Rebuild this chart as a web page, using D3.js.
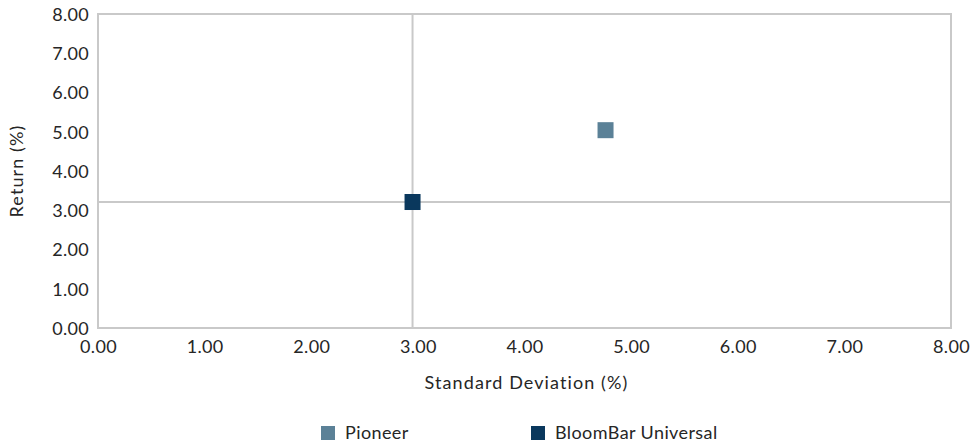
<!DOCTYPE html>
<html><head><meta charset="utf-8">
<script src="https://cdn.jsdelivr.net/npm/d3@7"></script>
<style>
html,body{margin:0;padding:0;background:#fff;}
text{font-family:"Lato","Open Sans",sans-serif;fill:#262626;font-weight:400;}
</style></head>
<body><svg id="c" width="972" height="443"></svg>
<script>
const seriesNames = ["Pioneer", "BloomBar Universal"];
const stdDev = [4.76, 2.95];
const returns = [5.04, 3.21];
const colors = ["#5b8197", "#0a385d"];
const tickValues = [0,1,2,3,4,5,6,7,8];
const benchmarkIndex = 1;

const svg = d3.select("#c");
const L = 98, R = 951, T = 14, B = 328;
const x = d3.scaleLinear().domain([0,8]).range([L,R]);
const y = d3.scaleLinear().domain([0,8]).range([B,T]);
const grid = "#c9c9c9";

svg.append("rect").attr("x",L).attr("y",T).attr("width",R-L).attr("height",B-T)
  .attr("fill","none").attr("stroke",grid).attr("stroke-width",2);

svg.append("line").attr("x1",x(stdDev[benchmarkIndex])).attr("x2",x(stdDev[benchmarkIndex]))
  .attr("y1",T).attr("y2",B).attr("stroke",grid).attr("stroke-width",2);
svg.append("line").attr("x1",L).attr("x2",R)
  .attr("y1",y(returns[benchmarkIndex])).attr("y2",y(returns[benchmarkIndex])).attr("stroke",grid).attr("stroke-width",2);

const fmt = d3.format(".2f");
const xa = svg.append("g").attr("transform",`translate(0,${B})`)
  .call(d3.axisBottom(x).tickValues(tickValues).tickFormat(fmt).tickSize(0).tickPadding(16));
const ya = svg.append("g").attr("transform",`translate(${L},0)`)
  .call(d3.axisLeft(y).tickValues(tickValues).tickFormat(fmt).tickSize(0).tickPadding(9));
[xa,ya].forEach(a=>{a.select(".domain").remove();
  a.selectAll("text").attr("font-family","Lato, sans-serif").attr("font-weight",400)
   .attr("font-size",18).attr("letter-spacing",0.3).attr("fill","#262626");});
ya.selectAll("text").attr("dy","0.35em");
xa.selectAll("text").attr("dy","0.5em");

svg.append("text").attr("x",(L+R)/2+2).attr("y",389).attr("text-anchor","middle")
  .attr("font-size",18).attr("letter-spacing",1.1).text("Standard Deviation (%)");
svg.append("text").attr("transform",`translate(23,${(T+B)/2}) rotate(-90)`).attr("text-anchor","middle")
  .attr("font-size",18).attr("letter-spacing",1.1).text("Return (%)");

const ms = 16;
svg.selectAll("rect.pt").data(seriesNames).enter().append("rect").attr("class","pt")
  .attr("x",(d,i)=>x(stdDev[i])-ms/2).attr("y",(d,i)=>y(returns[i])-ms/2)
  .attr("width",ms).attr("height",ms).attr("fill",(d,i)=>colors[i]);

const legX = [321, 531];
const lg = svg.selectAll("g.leg").data(seriesNames).enter().append("g").attr("class","leg")
  .attr("transform",(d,i)=>`translate(${legX[i]},426)`);
lg.append("rect").attr("width",14).attr("height",14).attr("fill",(d,i)=>colors[i]);
lg.append("text").attr("x",24).attr("y",7).attr("dy","0.35em").attr("font-size",18)
  .attr("letter-spacing",0.4).text(d=>d);
</script></body></html>
